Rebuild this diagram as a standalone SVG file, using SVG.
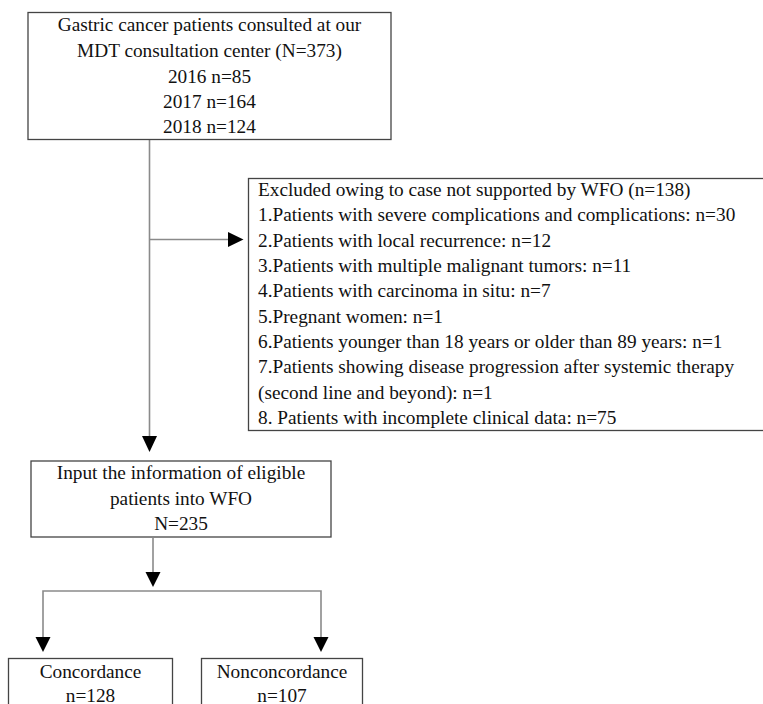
<svg xmlns="http://www.w3.org/2000/svg" width="763" height="704" viewBox="0 0 763 704">
<defs>
<style>
.box{fill:#fff;stroke:#444;stroke-width:1.3}
.t{font-family:"Liberation Serif","Times New Roman",serif;font-size:19.3px;fill:#111}
.c{text-anchor:middle}
.ln{fill:none;stroke:#8a8a8a;stroke-width:1.6}
.ah{fill:#000}
</style>
</defs>
<rect width="763" height="704" fill="#fff"/>
<g id="connectors">
<line class="ln" x1="149.5" y1="140" x2="149.5" y2="436"/>
<polygon class="ah" points="142,436 157,436 149.5,452"/>
<line class="ln" x1="149.5" y1="239.5" x2="228" y2="239.5"/>
<polygon class="ah" points="228,232 228,247 243.5,239.5"/>
<line class="ln" x1="153" y1="538" x2="153" y2="572"/>
<polygon class="ah" points="145.5,572 160.5,572 153,587"/>
<polyline class="ln" points="43,637 43,591 321,591 321,637"/>
<polygon class="ah" points="35.5,637 50.5,637 43,652"/>
<polygon class="ah" points="313.5,637 328.5,637 321,652"/>
</g>
<g id="n1">
<rect class="box" x="28" y="12.5" width="363" height="127"/>
<text class="t c" x="209.5" y="31">Gastric cancer patients consulted at our</text>
<text class="t c" x="209.5" y="57">MDT consultation center (N=373)</text>
<text class="t c" x="209.5" y="83">2016 n=85</text>
<text class="t c" x="209.5" y="108">2017 n=164</text>
<text class="t c" x="209.5" y="133">2018 n=124</text>
</g>
<g id="n2">
<rect class="box" x="248.5" y="178.5" width="530" height="252"/>
<text class="t" x="258" y="196">Excluded owing to case not supported by WFO (n=138)</text>
<text class="t" x="258" y="221">1.Patients with severe complications and complications: n=30</text>
<text class="t" x="258" y="246.5">2.Patients with local recurrence: n=12</text>
<text class="t" x="258" y="272">3.Patients with multiple malignant tumors: n=11</text>
<text class="t" x="258" y="297">4.Patients with carcinoma in situ: n=7</text>
<text class="t" x="258" y="322.5">5.Pregnant women: n=1</text>
<text class="t" x="258" y="348">6.Patients younger than 18 years or older than 89 years: n=1</text>
<text class="t" x="258" y="373">7.Patients showing disease progression after systemic therapy</text>
<text class="t" x="258" y="398.5">(second line and beyond): n=1</text>
<text class="t" x="258" y="424">8. Patients with incomplete clinical data: n=75</text>
</g>
<g id="n3">
<rect class="box" x="31" y="461" width="300" height="76"/>
<text class="t c" x="181" y="479">Input the information of eligible</text>
<text class="t c" x="181" y="505">patients into WFO</text>
<text class="t c" x="181" y="530">N=235</text>
</g>
<g id="n4">
<rect class="box" x="8.5" y="658.5" width="164" height="60"/>
<text class="t c" x="90.5" y="678">Concordance</text>
<text class="t c" x="90.5" y="702">n=128</text>
</g>
<g id="n5">
<rect class="box" x="201.5" y="658.5" width="161" height="60"/>
<text class="t c" x="282" y="678">Nonconcordance</text>
<text class="t c" x="282" y="702">n=107</text>
</g>
</svg>
